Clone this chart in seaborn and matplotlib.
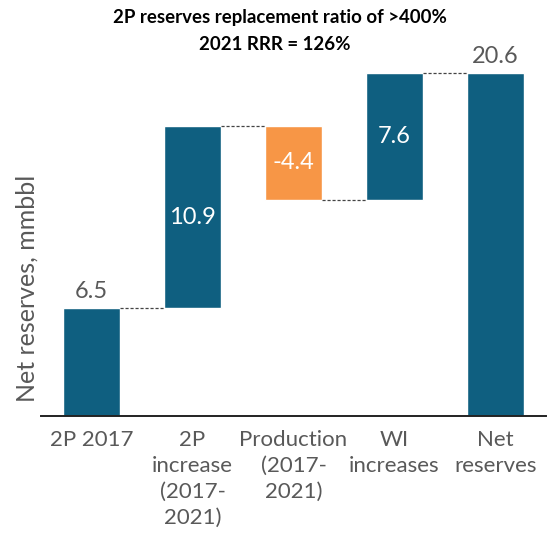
import numpy as np
import pandas as pd
import matplotlib
matplotlib.use("Agg")
import matplotlib.pyplot as plt
import seaborn as sns

# données du waterfall
categories = ["2P 2017", "2P\nincrease\n(2017-\n2021)", "Production\n(2017-\n2021)",
              "WI\nincreases", "Net\nreserves"]
values = [6.5, 10.9, -4.4, 7.6, 20.6]
is_total = [True, False, False, False, True]
bar_colors = ["#0F5F80", "#0F5F80", "#F79646", "#0F5F80", "#0F5F80"]

title_lines = ["2P reserves replacement ratio of >400%", "2021 RRR = 126%"]
ylabel = "Net reserves, mmbbl"

sns.set_style("white")
plt.rcParams["font.family"] = ["Lato", "DejaVu Sans"]

# calcul des bases et hauteurs
bottoms, heights, levels = [], [], []
running = 0.0
for v, tot in zip(values, is_total):
    if tot:
        bottoms.append(0.0)
        heights.append(v)
        running = v
    else:
        bottoms.append(min(running, running + v))
        heights.append(abs(v))
        running = running + v
    levels.append(running)

df = pd.DataFrame({"cat": categories, "h": heights})

fig = plt.figure(figsize=(5.49, 5.39), dpi=100)
ax = fig.add_axes([0.0747, 0.2282, 0.9199, 0.6976])

width = 0.56
sns.barplot(data=df, x="cat", y="h", hue="cat", palette=bar_colors,
            legend=False, width=width, ax=ax, saturation=1)

for patch, b in zip(ax.patches, bottoms):
    patch.set_y(b)

# lignes de liaison en pointillés
for i in range(len(values) - 1):
    ax.plot([i + width / 2, i + 1 - width / 2], [levels[i], levels[i]],
            ls=(0, (2.5, 1.5)), color="#444444", lw=0.9)

# étiquettes de valeurs
for i, (v, tot) in enumerate(zip(values, is_total)):
    txt = f"{v:.1f}"
    if tot:
        ax.text(i, bottoms[i] + heights[i] + 0.35, txt, ha="center", va="bottom",
                fontsize=17, color="#595959")
    else:
        ax.text(i, bottoms[i] + heights[i] / 2, txt, ha="center", va="center",
                fontsize=17, color="white")

ax.set_xlim(-0.5, 4.5)
ax.set_ylim(0, 22.58)
ax.set_yticks([])
ax.set_xlabel("")
ax.set_ylabel(ylabel, fontsize=18, color="#595959")
ax.yaxis.set_label_coords(-0.004, 0.34)
ax.tick_params(axis="x", length=0, labelsize=16, labelcolor="#595959", pad=10)
for lab in ax.get_xticklabels():
    lab.set_linespacing(1.38)
    lab.set_va("top")

for s in ["top", "right", "left"]:
    ax.spines[s].set_visible(False)
ax.spines["bottom"].set_color("#222222")
ax.spines["bottom"].set_linewidth(1.4)

fig.text(0.51, 1 - 18 / 539, title_lines[0], ha="center", va="center",
         fontsize=13.4, fontweight="bold", color="black")
fig.text(0.50, 1 - 45 / 539, title_lines[1], ha="center", va="center",
         fontsize=13.4, fontweight="bold", color="black")

fig.savefig("out.png", dpi=100)
